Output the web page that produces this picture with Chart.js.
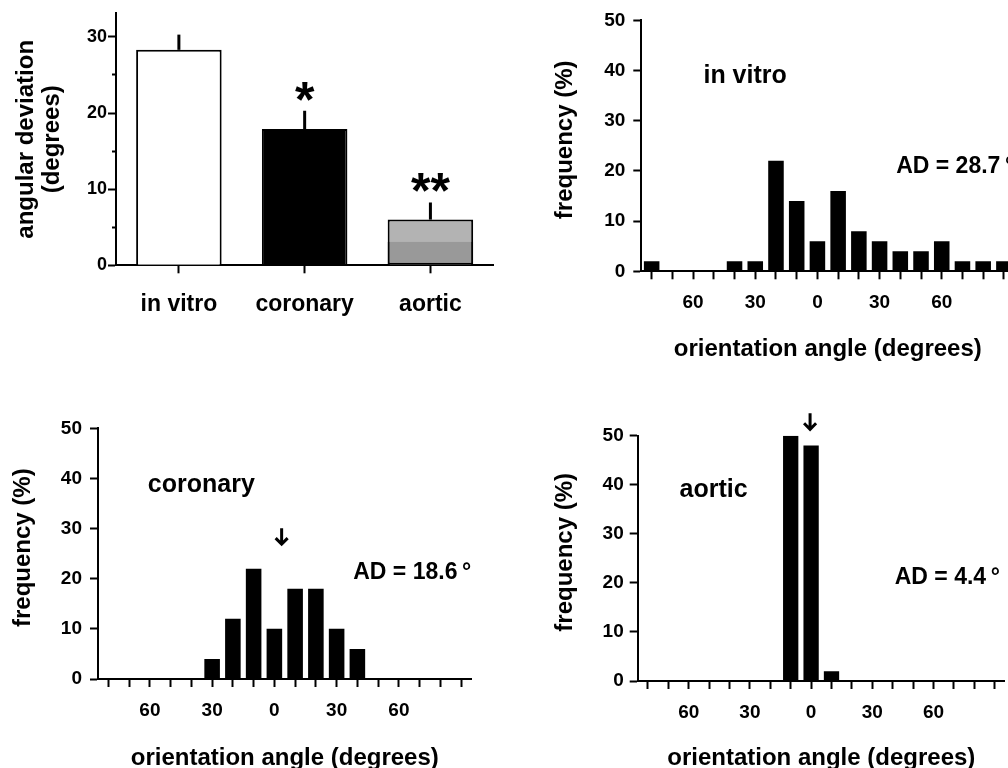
<!DOCTYPE html>
<html>
<head>
<meta charset="utf-8">
<script src="https://cdn.jsdelivr.net/npm/chart.js@4.4.1/dist/chart.umd.min.js"></script>
<style>
  html, body { margin: 0; padding: 0; background: #fff; overflow: hidden; width: 1008px; height: 768px; }
  canvas { position: absolute; }
</style>
</head>
<body>
<canvas id="adChart" width="504" height="340" style="left:0;top:0"></canvas>
<canvas id="vitroChart" width="520" height="380" style="left:504px;top:0"></canvas>
<canvas id="coronaryChart" width="504" height="400" style="left:0;top:380px"></canvas>
<canvas id="aorticChart" width="520" height="400" style="left:504px;top:380px"></canvas>
<script>
// angular deviation, mean + error
const groups = ['in vitro', 'coronary', 'aortic'];
const meanAD = [28.3, 17.9, 6.0];
const errAD = [2.0, 2.4, 2.25];
const aorticShade = [null, null, 3.1];
const stars = ['', '*', '**'];
const adTicks = [0, 10, 20, 30];

// orientation histograms (10 degree bins)
const angleBins = [-80, -70, -60, -50, -40, -30, -20, -10, 0, 10, 20, 30, 40, 50, 60, 70, 80, 90];
const angleTickLabels = ['', '', '60', '', '', '30', '', '', '0', '', '', '30', '', '', '60', '', '', ''];
const freqInVitro = [2, 0, 0, 0, 2, 2, 22, 14, 6, 16, 8, 6, 4, 4, 6, 2, 2, 2];
const freqCoronary = [0, 0, 0, 0, 0, 4, 12, 22, 10, 18, 18, 10, 6, 0, 0, 0, 0, 0];
const freqAortic = [0, 0, 0, 0, 0, 0, 0, 50, 48, 2, 0, 0, 0, 0, 0, 0, 0, 0];
const freqTicks = [0, 10, 20, 30, 40, 50];

const FONT = "'Liberation Sans', Arial, sans-serif";
Chart.defaults.font.family = FONT;
Chart.defaults.font.weight = 'bold';
Chart.defaults.color = '#000';

// pin the chart area to a given rectangle inside the canvas
function pinArea(area, h, w) {
  return {
    padding: { left: 0, top: area.t, right: w - area.r, bottom: 0 },
    yFit: s => { s.width = area.l; s.paddingTop = 0; s.paddingBottom = 0; },
    xFit: s => { s.height = h - area.b; s.paddingLeft = 0; s.paddingRight = 0; }
  };
}

// minor ticks: draw only the inner 4px of the 8px tick mark
const minorDash = ctx => (ctx.tick && ctx.tick.value % 10 !== 0) ? [0, 4, 4, 40] : [];

// ---- panel 1: angular deviation bars ----
const p1 = pinArea({ l: 116, t: 13.3, r: 493.3, b: 265.3 }, 340, 504);

const errorBars = {
  id: 'errorBars',
  afterDatasetsDraw(chart) {
    const { ctx, scales: { x, y } } = chart;
    ctx.save();
    ctx.strokeStyle = '#000';
    ctx.lineWidth = 3;
    meanAD.forEach((m, i) => {
      const px = x.getPixelForValue(i);
      const top = y.getPixelForValue(m + errAD[i]);
      ctx.beginPath();
      ctx.moveTo(px, y.getPixelForValue(m));
      ctx.lineTo(px, top);
      ctx.stroke();
      if (stars[i]) {
        ctx.font = 'bold 50px ' + FONT;
        ctx.fillStyle = '#000';
        ctx.textAlign = 'center';
        ctx.textBaseline = 'alphabetic';
        ctx.fillText(stars[i], px, top + 6);
      }
    });
    ctx.restore();
  }
};

new Chart(document.getElementById('adChart'), {
  type: 'bar',
  data: {
    labels: groups,
    datasets: [
      { data: aorticShade, backgroundColor: '#999999', borderColor: '#000', borderWidth: 2, borderSkipped: 'end', order: 0 },
      { data: meanAD, backgroundColor: ['#ffffff', '#000000', '#b3b3b3'], borderColor: '#000', borderWidth: 2, order: 1 }
    ]
  },
  options: {
    responsive: false,
    animation: false,
    layout: { padding: p1.padding },
    datasets: { bar: { grouped: false, barPercentage: 0.68, categoryPercentage: 1 } },
    plugins: { legend: { display: false }, tooltip: { enabled: false } },
    scales: {
      x: {
        offset: true,
        afterFit: p1.xFit,
        border: { color: '#000', width: 2 },
        grid: { offset: false, drawOnChartArea: false, tickLength: 8, tickWidth: 2, tickColor: '#000' },
        ticks: { font: { size: 23 }, padding: 18 }
      },
      y: {
        min: 0, max: 33.1,
        afterFit: p1.yFit,
        border: { color: '#000', width: 2 },
        grid: { drawOnChartArea: false, tickLength: 8, tickWidth: 2, tickColor: '#000', tickBorderDash: minorDash },
        ticks: { stepSize: 5, includeBounds: false, font: { size: 18 }, padding: 1,
                 callback: v => adTicks.includes(v) ? v : '' },
        title: { display: true, text: ['angular deviation', '(degrees)'],
                 font: { size: 24, lineHeight: 1.1 }, padding: { top: 13 } }
      }
    }
  },
  plugins: [errorBars]
});

// ---- panels 2-4: orientation histograms ----
const annotate = {
  id: 'annotate',
  afterDatasetsDraw(chart, args, opts) {
    const { ctx, scales: { x, y } } = chart;
    ctx.save();
    ctx.fillStyle = '#000';
    ctx.textAlign = 'left';
    ctx.textBaseline = 'middle';
    opts.texts.forEach(t => {
      ctx.font = 'bold ' + t.size + 'px ' + FONT;
      ctx.fillText(t.text, x.getPixelForValue(t.at[0]), y.getPixelForValue(t.at[1]));
    });
    if (opts.arrow) {
      const ax = x.getPixelForValue(opts.arrow.at);
      const tip = y.getPixelForValue(opts.arrow.tip);
      ctx.strokeStyle = '#000';
      ctx.lineWidth = 3;
      ctx.beginPath();
      ctx.moveTo(ax, tip - 17);
      ctx.lineTo(ax, tip - 2);
      ctx.moveTo(ax - 6, tip - 7);
      ctx.lineTo(ax, tip - 1);
      ctx.lineTo(ax + 6, tip - 7);
      ctx.stroke();
    }
    ctx.restore();
  }
};

function histogram(id, values, w, h, area, yTitlePad, xTitlePad, yTickPad, annot) {
  const p = pinArea(area, h, w);
  return new Chart(document.getElementById(id), {
    type: 'bar',
    data: {
      labels: angleBins.map(String),
      datasets: [{ data: values, backgroundColor: '#000', borderWidth: 0, barPercentage: 0.75, categoryPercentage: 1 }]
    },
    options: {
      responsive: false,
      animation: false,
      layout: { padding: p.padding },
      plugins: { legend: { display: false }, tooltip: { enabled: false }, annotate: annot },
      scales: {
        x: {
          offset: true,
          afterFit: p.xFit,
          border: { color: '#000', width: 2 },
          grid: { offset: false, drawOnChartArea: false, tickLength: 8, tickWidth: 2, tickColor: '#000' },
          ticks: { autoSkip: false, maxRotation: 0, font: { size: 19 }, padding: 12,
                   callback: (v, i) => angleTickLabels[i] },
          title: { display: true, text: 'orientation angle (degrees)', font: { size: 24 }, padding: { bottom: xTitlePad } }
        },
        y: {
          min: 0, max: 50,
          afterFit: p.yFit,
          border: { color: '#000', width: 2 },
          grid: { drawOnChartArea: false, tickLength: 8, tickWidth: 2, tickColor: '#000', tickBorderDash: minorDash },
          ticks: { stepSize: 5, font: { size: 19 }, padding: yTickPad,
                   callback: v => freqTicks.includes(v) ? v : '' },
          title: { display: true, text: '\u2002frequency (%)', font: { size: 24 }, padding: { top: yTitlePad } }
        }
      }
    },
    plugins: [annotate]
  });
}

histogram('vitroChart', freqInVitro, 520, 380,
  { l: 137.3, t: 20.3, r: 137.3 + 18 * 20.72, b: 271.3 }, 46.6, 16.6, 8,
  { texts: [{ text: 'in vitro', size: 25, at: [2.5, 38.9] }, { text: 'AD = 28.7\u2009°', size: 23, at: [11.8, 20.8] }], arrow: null });

histogram('coronaryChart', freqCoronary, 504, 400,
  { l: 98, t: 48.3, r: 98 + 18 * 20.75, b: 299 }, 8.6, 7.6, 8,
  { texts: [{ text: 'coronary', size: 25, at: [1.9, 38.7] }, { text: 'AD = 18.6\u2009°', size: 23, at: [11.8, 21.2] }], arrow: { at: 8.35, tip: 26.7 } });

histogram('aorticChart', freqAortic, 520, 400,
  { l: 133.7, t: 55.7, r: 133.7 + 18 * 20.4, b: 301 }, 46.6, 7.6, 6,
  { texts: [{ text: 'aortic', size: 25, at: [1.55, 38.9] }, { text: 'AD = 4.4\u2009°', size: 23, at: [12.1, 21] }], arrow: { at: 7.95, tip: 51.1 } });
</script>
</body>
</html>
